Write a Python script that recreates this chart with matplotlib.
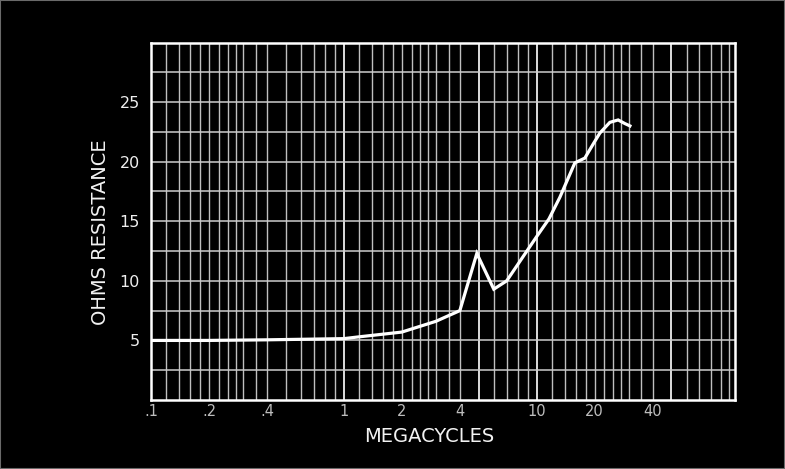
import matplotlib
matplotlib.use("Agg")
import matplotlib.pyplot as plt
from matplotlib.patches import Rectangle
import numpy as np

# Data
freq_mc = [0.1, 0.2, 0.4, 1.0, 1.2, 2.0, 3.0, 4.0, 4.9, 6.0, 7.0, 10.0, 11.6,
           13.2, 15.8, 17.8, 19.7, 21.3, 24.0, 26.5, 28.7, 30.5]
ohms = [5.0, 5.0, 5.05, 5.15, 5.3, 5.7, 6.6, 7.5, 12.3, 9.3, 10.0, 13.7, 15.2,
        17.0, 19.9, 20.3, 21.5, 22.4, 23.3, 23.5, 23.2, 23.0]

x_tick_vals = [0.1, 0.2, 0.4, 1, 2, 4, 10, 20, 40]
x_tick_labels = [".1", ".2", ".4", "1", "2", "4", "10", "20", "40"]
y_tick_vals = [5, 10, 15, 20, 25]
y_tick_labels = ["5", "10", "15", "20", "25"]
decade_steps = [1, 1.2, 1.4, 1.6, 1.8, 2, 2.25, 2.5, 2.75, 3, 3.5, 4, 5, 6, 7, 8, 9]

W, H = 785, 469
fig = plt.figure(figsize=(W / 100, H / 100), dpi=100, facecolor="black")
ax = fig.add_axes([151 / W, 1 - 400 / H, (735 - 151) / W, (400 - 42.5) / H])
ax.set_facecolor("black")
ax.set_xscale("log")
ax.set_xlim(0.1, 107)
ax.set_ylim(0, 30)

# graph-paper grid
grid_x = [s * 10.0 ** d for d in (-1, 0, 1) for s in decade_steps] + [100]
for gx in grid_x:
    if 0.1 < gx < 107:
        bright = gx in (0.3, 1, 10, 5, 50)
        ax.axvline(gx, color="#eeeeee" if bright else "#bfbfbf",
                   lw=1.3 if bright else 1.0, zorder=1)
for gy in np.arange(2.5, 30, 2.5):
    ax.axhline(gy, color="#cccccc", lw=1.1, zorder=1)

ax.plot(freq_mc, ohms, color="white", lw=2.3, solid_joinstyle="miter", zorder=3)

for sp in ax.spines.values():
    sp.set_color("white")
    sp.set_linewidth(1.8)

ax.set_xticks(x_tick_vals)
ax.set_xticklabels(x_tick_labels)
ax.xaxis.set_minor_locator(matplotlib.ticker.NullLocator())
ax.set_yticks(y_tick_vals)
ax.set_yticklabels(y_tick_labels)
ax.tick_params(axis="x", length=0, pad=3, labelsize=10.5, labelcolor="#bdbdbd")
ax.tick_params(axis="y", length=0, pad=8, labelsize=11.5, labelcolor="#eeeeee")

fig.text(429 / W, 1 - 436 / H, "MEGACYCLES", color="#f2f2f2", fontsize=14,
         ha="center", va="center")
fig.text(100 / W, 1 - 232 / H, "OHMS RESISTANCE", color="#f2f2f2", fontsize=14,
         rotation=90, ha="center", va="center")

fig.patches.append(Rectangle((0, 0), 1, 1, transform=fig.transFigure, fill=False,
                             edgecolor="#6a6a6a", lw=1.5))

fig.savefig("out.png", dpi=100, facecolor="black")
